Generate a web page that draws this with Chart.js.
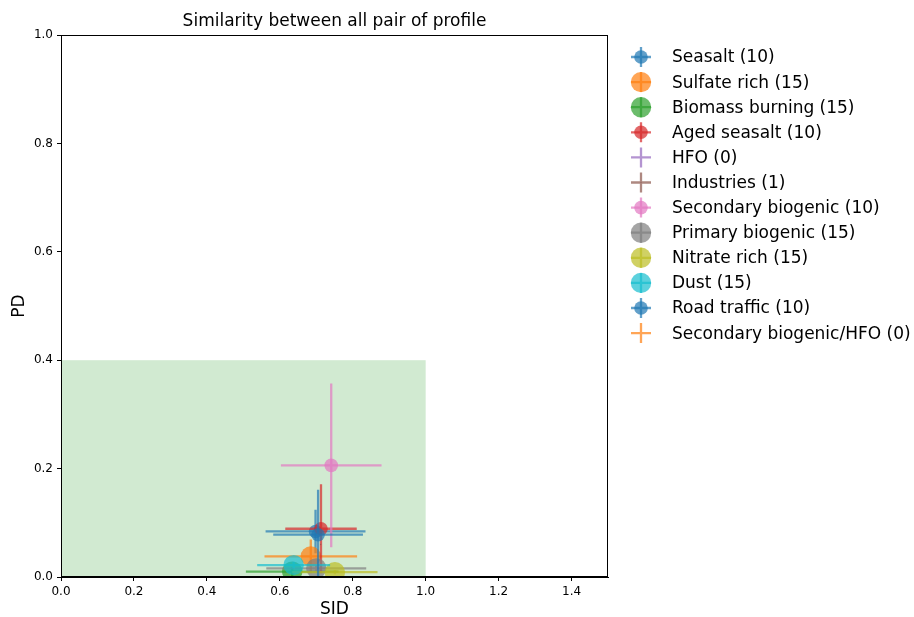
<!DOCTYPE html>
<html>
<head>
<meta charset="utf-8">
<script src="https://cdn.jsdelivr.net/npm/chart.js@4.4.0/dist/chart.umd.min.js"></script>
<style>
html,body{margin:0;padding:0;background:#fff;}
#wrap{position:relative;width:914px;height:617px;}
</style>
</head>
<body>
<div id="wrap"><canvas id="c" width="914" height="617"></canvas></div>
<script>
// ---- data ----
const names = ["Seasalt","Sulfate rich","Biomass burning","Aged seasalt","HFO","Industries","Secondary biogenic","Primary biogenic","Nitrate rich","Dust","Road traffic","Secondary biogenic/HFO"];
const counts = [10,15,15,10,0,1,10,15,15,15,10,0];
const sidMean = [0.698,0.685,0.634,0.713,null,0.712,0.741,0.700,0.751,0.638,0.705,null];
const sidStd  = [0.137,0.127,0.127,0.098,null,0,0.138,0.137,0.117,0.100,0.123,null];
const pdMean  = [0.084,0.038,0.010,0.089,null,0.060,0.206,0.016,0.009,0.022,0.078,null];
const pdStd   = [0.040,0.031,0.008,0.082,null,0,0.151,0.006,0.004,0.006,0.083,null];
const colors  = ["#1f77b4","#ff7f0e","#2ca02c","#d62728","#9467bd","#8c564b","#e377c2","#7f7f7f","#bcbd22","#17becf","#1f77b4","#ff7f0e"];
const xTicks = [0.0,0.2,0.4,0.6,0.8,1.0,1.2,1.4];
const yTicks = [0.0,0.2,0.4,0.6,0.8,1.0];
const titleText = "Similarity between all pair of profile";
const xLabel = "SID", yLabel = "PD";
const zone = {x0:0, x1:1.0, y0:0, y1:0.4};

function rgba(hex,a){const n=parseInt(hex.slice(1),16);return `rgba(${n>>16},${(n>>8)&255},${n&255},${a})`;}
const ALPHA = 0.7;
const FONT = "'DejaVu Sans', sans-serif";
const rad = c => c*0.68;

const N = names.length;
const datasets = names.map((n,i)=>({
  label: n,
  data: sidMean[i]==null ? [] : [{x:sidMean[i], y:pdMean[i]}],
  pointRadius: rad(counts[i]),
  pointHoverRadius: rad(counts[i]),
  backgroundColor: rgba(colors[i],ALPHA),
  borderWidth: 0,
  pointBorderWidth: 0,
  order: N - i,
  errIdx: i
}));

const zonePlugin = {
  id:'zone',
  beforeDatasetsDraw(chart){
    const {ctx, scales:{x,y}} = chart;
    ctx.save();
    ctx.fillStyle = rgba('#2ca02c',0.22);
    const l=x.getPixelForValue(zone.x0), r=x.getPixelForValue(zone.x1);
    const t=y.getPixelForValue(zone.y1), b=y.getPixelForValue(zone.y0);
    ctx.fillRect(l,t,r-l,b-t);
    ctx.restore();
  }
};
const errPlugin = {
  id:'err',
  beforeDatasetDraw(chart,args){
    const i = chart.data.datasets[args.index].errIdx;
    if (sidMean[i]==null) return;
    const {ctx, scales:{x,y}, chartArea:ca} = chart;
    ctx.save();
    ctx.beginPath(); ctx.rect(ca.left,ca.top,ca.right-ca.left,ca.bottom-ca.top); ctx.clip();
    ctx.strokeStyle = rgba(colors[i],ALPHA);
    ctx.lineWidth = 2.3;
    const cx=x.getPixelForValue(sidMean[i]), cy=y.getPixelForValue(pdMean[i]);
    ctx.beginPath();
    ctx.moveTo(x.getPixelForValue(sidMean[i]-sidStd[i]),cy);
    ctx.lineTo(x.getPixelForValue(sidMean[i]+sidStd[i]),cy);
    ctx.moveTo(cx,y.getPixelForValue(pdMean[i]-pdStd[i]));
    ctx.lineTo(cx,y.getPixelForValue(pdMean[i]+pdStd[i]));
    ctx.stroke();
    ctx.restore();
  }
};
const decoPlugin = {
  id:'deco',
  afterDraw(chart){
    const {ctx, chartArea:ca} = chart;
    ctx.save();
    // frame
    ctx.strokeStyle='#000'; ctx.lineWidth=1;
    ctx.strokeRect(ca.left+0.5,ca.top+0.5,ca.right-ca.left-1,ca.bottom-ca.top-1);
    // title
    ctx.fillStyle='#000';
    ctx.font = `17px ${FONT}`;
    ctx.textAlign='center'; ctx.textBaseline='alphabetic';
    ctx.fillText(titleText,(ca.left+ca.right)/2, ca.top-9);
    // axis labels
    ctx.fillText(xLabel,(ca.left+ca.right)/2, ca.bottom+37);
    ctx.save();
    ctx.translate(24,(ca.top+ca.bottom)/2);
    ctx.rotate(-Math.PI/2);
    ctx.fillText(yLabel,0,0);
    ctx.restore();
    // legend
    const lx=641, tx=672, y0=57, dy=25.1;
    ctx.textAlign='left'; ctx.textBaseline='middle';
    names.forEach((n,i)=>{
      const yy = y0 + i*dy;
      ctx.strokeStyle = rgba(colors[i],ALPHA);
      ctx.lineWidth = 2.3;
      ctx.beginPath();
      ctx.moveTo(lx-10,yy); ctx.lineTo(lx+10,yy);
      ctx.moveTo(lx,yy-10); ctx.lineTo(lx,yy+10);
      ctx.stroke();
      if (counts[i]>0){
        ctx.fillStyle = rgba(colors[i],ALPHA);
        ctx.beginPath(); ctx.arc(lx,yy,rad(counts[i]),0,Math.PI*2); ctx.fill();
      }
      ctx.fillStyle='#000';
      ctx.font = `17px ${FONT}`;
      ctx.fillText(`${n} (${counts[i]})`, tx, yy+1);
    });
    ctx.restore();
  }
};

new Chart(document.getElementById('c'),{
  type:'scatter',
  data:{datasets},
  options:{
    responsive:false, animation:false, events:[],
    layout:{padding:{left:0,top:35,right:306,bottom:0}},
    plugins:{legend:{display:false}, tooltip:{enabled:false}},
    scales:{
      x:{type:'linear',min:0,max:1.5,
        afterBuildTicks(s){s.ticks = xTicks.map(v=>({value:v}));},
        afterFit(s){s.height=40;},
        grid:{drawOnChartArea:false,drawTicks:true,tickLength:4,color:'#000',tickWidth:1},
        border:{display:true,color:'#000',width:1},
        ticks:{color:'#000',font:{family:FONT,size:12},padding:4,maxRotation:0,autoSkip:false,callback:v=>Number(v).toFixed(1)}
      },
      y:{type:'linear',min:0,max:1.0,
        afterBuildTicks(s){s.ticks = yTicks.map(v=>({value:v}));},
        afterFit(s){s.width=61;},
        grid:{drawOnChartArea:false,drawTicks:true,tickLength:4,color:'#000',tickWidth:1},
        border:{display:true,color:'#000',width:1},
        ticks:{color:'#000',font:{family:FONT,size:12},padding:4,autoSkip:false,callback:v=>Number(v).toFixed(1)}
      }
    }
  },
  plugins:[zonePlugin,errPlugin,decoPlugin]
});
</script>
</body>
</html>
